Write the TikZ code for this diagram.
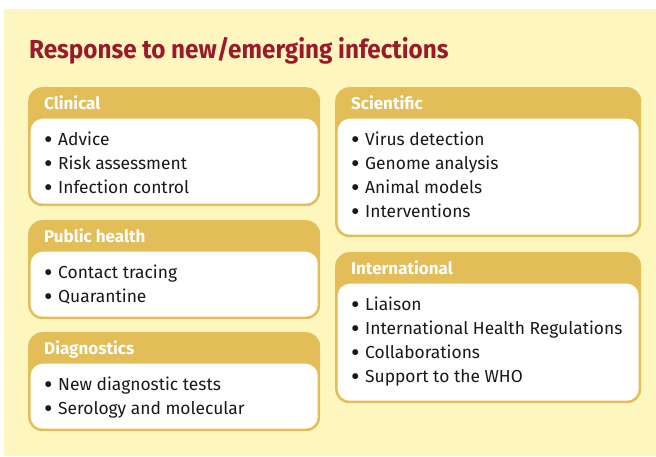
\documentclass[tikz,border=0pt]{standalone}
\usepackage{graphicx}
\usepackage{fontspec}
\setmainfont{Fira Sans}
\usetikzlibrary{positioning}

\definecolor{paper}{HTML}{FDF7BF}
\definecolor{mustard}{HTML}{E3BD58}
\definecolor{titlered}{HTML}{9A1A2C}

\tikzset{
  panel/.style={fill=mustard, rounded corners=14pt, inner sep=0pt, anchor=north west},
  panelbody/.style={fill=white, rounded corners=12pt, inner sep=0pt, anchor=south},
  paneltitle/.style={text=white, anchor=base west, inner sep=0pt,
    font=\bfseries\fontsize{17}{20}\selectfont},
  entry/.style={anchor=base west, inner sep=0pt, text=black!90,
    font=\fontsize{17.4}{20}\selectfont}
}
\newcommand\bul[1]{\makebox[14pt][l]{\raisebox{-3.2pt}{\scalebox{1.5}{\textbullet}}}#1}

\begin{document}
\begin{tikzpicture}[x=1pt, y=-1pt]
  \useasboundingbox (0,0) rectangle (656,456);
  \fill[paper] (4,9) rectangle (656,456);

  \node[anchor=base west, inner sep=0pt, text=titlered, xscale=0.933,
    font=\bfseries\fontsize{26}{30}\selectfont] (title) at (29,58)
    {Response to new/emerging infections};

  % name / left / top / width / height / heading / list
  \foreach \n/\x/\y/\w/\h/\head/\items in {
    clin/28/87/292/119/Clinical/{Advice,Risk assessment,Infection control},
    pub/28/220/292/99/Public health/{Contact tracing,Quarantine},
    diag/28/332/292/99/Diagnostics/{New diagnostic tests,Serology and molecular},
    sci/335/87/306/150/Scientific/{Virus detection,Genome analysis,Animal models,Interventions},
    intl/335/252/306/151/International/{Liaison,International Health Regulations,Collaborations,Support to the WHO}}{
    \node[panel, minimum width=\w pt, minimum height=\h pt] (\n) at (\x,\y) {};
    \node[panelbody, minimum width={\w pt-5pt}, minimum height={\h pt-34pt}]
      (\n-body) at ([yshift=2.5pt]\n.south) {};
    \node[paneltitle] (\n-head) at (\x+16,\y+22.5) {\head};
    \foreach \it [count=\k] in \items
      \node[entry] (\n-\k) at (\x+16,\y+58+24*\k-24) {\bul{\it}};
  }
\end{tikzpicture}
\end{document}
